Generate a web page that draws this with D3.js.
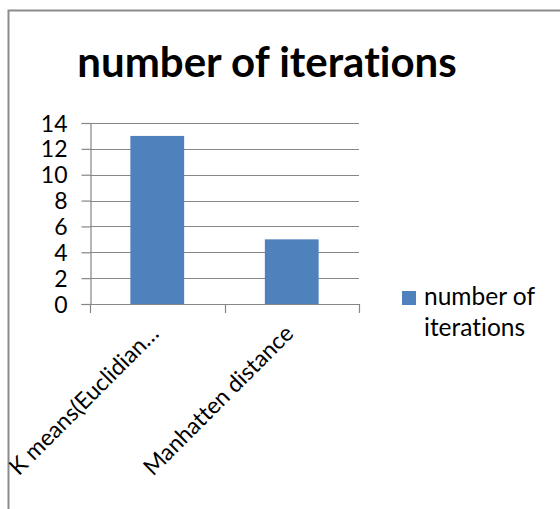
<!DOCTYPE html>
<html>
<head>
<meta charset="utf-8">
<script src="https://cdn.jsdelivr.net/npm/d3@7"></script>
<style>
  html, body { margin: 0; padding: 0; background: #fff; }
  svg { display: block; font-family: Lato, "Open Sans", sans-serif; font-variant-ligatures: none; font-feature-settings: "liga" 0, "clig" 0; }
  text { font-variant-ligatures: none; font-feature-settings: "liga" 0, "clig" 0; }
</style>
</head>
<body>
<svg id="chart" width="560" height="509"></svg>
<script>
const chartTitle = "number of iterations";
const seriesName = "number of iterations";
const categories = ["K means(Euclidian…", "Manhatten distance"];
const values = [13, 5];
const yTicks = [0, 2, 4, 6, 8, 10, 12, 14];

const svg = d3.select("#chart");
const W = 560, H = 509;
const plot = { left: 90, right: 359, top: 123, bottom: 304 };
const gridColor = "#868686";
const barColor = "#4F81BD";

// outer frame (only top and left edges visible in the crop)
svg.append("path")
  .attr("d", `M8.5,${H} V10.5 H${W}`)
  .attr("fill", "none").attr("stroke", "#8c8c8c").attr("stroke-width", 2);

// title
svg.append("text")
  .attr("x", 267).attr("y", 77)
  .attr("text-anchor", "middle")
  .attr("font-weight", "bold")
  .attr("font-size", 42)
  .attr("fill", "#000")
  .text(chartTitle);

const y = d3.scaleLinear().domain([0, 14]).range([plot.bottom, plot.top]);
const x = d3.scaleBand().domain(categories).range([plot.left, plot.right]).paddingInner(0).paddingOuter(0);

// gridlines
svg.append("g").selectAll("line").data(yTicks).join("line")
  .attr("x1", plot.left).attr("x2", plot.right)
  .attr("y1", d => Math.round(y(d)) + 0.5).attr("y2", d => Math.round(y(d)) + 0.5)
  .attr("stroke", gridColor).attr("stroke-width", 1.2);

// y axis
const yAxis = d3.axisLeft(y).tickValues(yTicks).tickSize(9).tickPadding(14).tickFormat(d3.format("d"));
const gy = svg.append("g").attr("transform", `translate(${plot.left + 0.5},0)`).call(yAxis);
gy.select(".domain").attr("stroke", gridColor).attr("stroke-width", 1.2);
gy.selectAll(".tick line").attr("stroke", gridColor).attr("stroke-width", 1.2);
gy.selectAll(".tick text").attr("font-size", 23).attr("fill", "#000").attr("font-family", "Lato, sans-serif").attr("dy", "0.35em");

// x axis line and tick marks at category boundaries
svg.append("line")
  .attr("x1", plot.left).attr("x2", plot.right)
  .attr("y1", y(0) + 0.5).attr("y2", y(0) + 0.5)
  .attr("stroke", gridColor).attr("stroke-width", 1.2);
const boundaries = categories.map(c => x(c)).concat([x(categories[categories.length - 1]) + x.bandwidth()]);
svg.append("g").selectAll("line").data(boundaries).join("line")
  .attr("x1", d => Math.round(d) + 0.5).attr("x2", d => Math.round(d) + 0.5)
  .attr("y1", y(0)).attr("y2", y(0) + 9)
  .attr("stroke", gridColor).attr("stroke-width", 1.2);

// bars
const barW = x.bandwidth() * 0.4;
svg.append("g").selectAll("rect").data(values).join("rect")
  .attr("x", (d, i) => x(categories[i]) + (x.bandwidth() - barW) / 2)
  .attr("y", d => y(d))
  .attr("width", barW)
  .attr("height", d => y(0) - y(d))
  .attr("fill", barColor);

// category labels rotated -45
svg.append("g").selectAll("text").data(categories).join("text")
  .attr("transform", d => `translate(${x(d) + x.bandwidth() / 2 + 3},${y(0) + 31}) rotate(-45)`)
  .attr("text-anchor", "end")
  .attr("font-size", 23)
  .attr("fill", "#000")
  .text(d => d);

// legend
const lg = svg.append("g");
lg.append("rect").attr("x", 402).attr("y", 291).attr("width", 14).attr("height", 14).attr("fill", barColor);
const lt = lg.append("text").attr("x", 424).attr("y", 305).attr("font-size", 24.5).attr("fill", "#000");
lt.append("tspan").attr("x", 424).text("number of");
lt.append("tspan").attr("x", 424).attr("dy", 31).text("iterations");
</script>
</body>
</html>
